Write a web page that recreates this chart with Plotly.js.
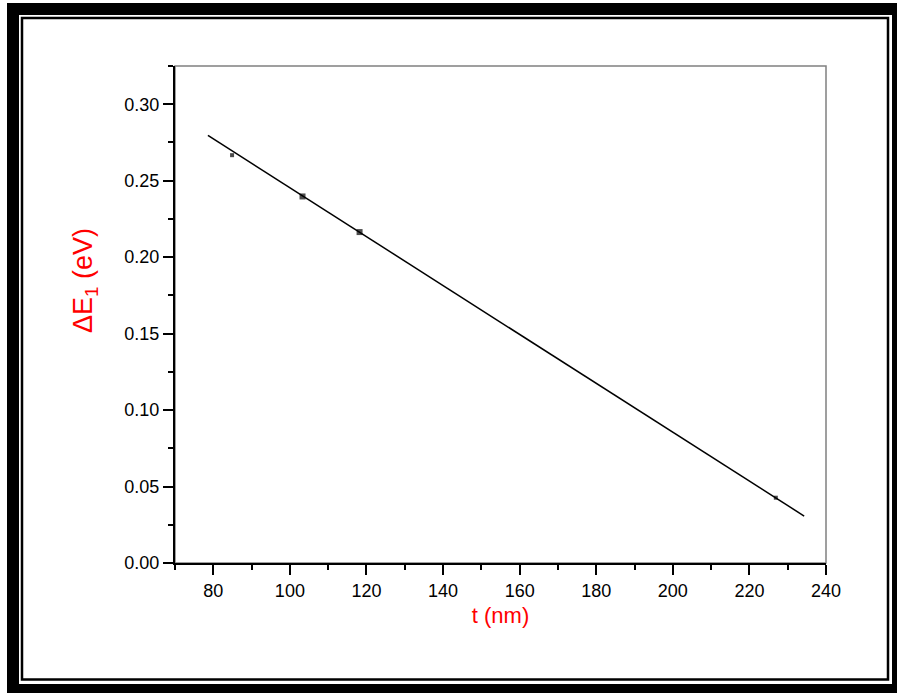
<!DOCTYPE html>
<html>
<head>
<meta charset="utf-8">
<script src="https://cdn.plot.ly/plotly-3.0.1.min.js"></script>
<style>
html,body{margin:0;padding:0;background:#fff;}
#chart{width:897px;height:693px;}
</style>
</head>
<body>
<div id="chart"></div>
<script>
// Data
const thickness = [84.9, 103.3, 118.2, 226.9];      // t (nm)
const deltaE1   = [0.2667, 0.2397, 0.2164, 0.0427]; // ΔE1 (eV)
const fitX = [78.6, 234.3];
const fitY = [0.2796, 0.0307];
const xTickVals = [80, 100, 120, 140, 160, 180, 200, 220, 240];
const yTickVals = [0.00, 0.05, 0.10, 0.15, 0.20, 0.25, 0.30];

// layout geometry (pixels)
const L = 175, R = 71, T = 66, B = 130, W = 897, H = 693;
const pw = W - L - R, ph = H - T - B;
const px = v => (v - L) / pw;
const py = v => (H - B - v) / ph;

const font = 'Liberation Sans, Arial, sans-serif';

const traces = [
  {
    x: fitX, y: fitY, type: 'scatter', mode: 'lines',
    line: {color: '#000', width: 1.5}, hoverinfo: 'skip', showlegend: false
  },
  {
    x: thickness, y: deltaE1, type: 'scatter', mode: 'markers',
    marker: {symbol: 'square', color: '#000', size: [4, 6, 6, 4], line: {width: 0}},
    showlegend: false
  }
];

const layout = {
  width: W, height: H,
  margin: {l: L, r: R, t: T, b: B, pad: 0},
  paper_bgcolor: '#fff',
  plot_bgcolor: 'rgba(0,0,0,0)',
  font: {family: font, size: 18, color: '#000'},
  showlegend: false,
  xaxis: {
    range: [70, 240],
    tickvals: xTickVals,
    ticktext: xTickVals.map(v => String(v)),
    showline: true, linecolor: '#000', linewidth: 2,
    ticks: 'outside', ticklen: 10, tickwidth: 2, tickcolor: '#000',
    minor: {dtick: 10, tick0: 70, ticks: 'outside', ticklen: 5, tickwidth: 2, tickcolor: '#000', showgrid: false},
    showgrid: false, zeroline: false,
    tickfont: {family: font, size: 18, color: '#000'},
    title: {text: 't (nm)', font: {family: font, size: 22, color: '#ff0000'}, standoff: 8}
  },
  yaxis: {
    range: [0, 0.32501],
    tickvals: yTickVals,
    ticktext: yTickVals.map(v => v.toFixed(2)),
    showline: true, linecolor: '#000', linewidth: 2,
    ticks: 'outside', ticklen: 10, tickwidth: 2, tickcolor: '#000',
    minor: {dtick: 0.025, tick0: 0, ticks: 'outside', ticklen: 5, tickwidth: 2, tickcolor: '#000', showgrid: false},
    showgrid: false, zeroline: false,
    tickfont: {family: font, size: 18, color: '#000'}
  },
  annotations: [
    {
      xref: 'paper', yref: 'paper', x: px(85), y: py(280),
      text: 'ΔE<sub>1</sub> (eV)', textangle: -90, showarrow: false,
      xanchor: 'center', yanchor: 'middle',
      font: {family: font, size: 27, color: '#ff0000'}
    }
  ],
  shapes: [
    {type: 'rect', xref: 'paper', yref: 'paper', layer: 'below',
     x0: px(7), x1: px(897), y0: py(3), y1: py(693),
     fillcolor: '#000', line: {width: 0}},
    {type: 'rect', xref: 'paper', yref: 'paper', layer: 'below',
     x0: px(19), x1: px(892), y0: py(15), y1: py(684),
     fillcolor: '#fff', line: {width: 0}},
    {type: 'rect', xref: 'paper', yref: 'paper', layer: 'below',
     x0: px(22), x1: px(888), y0: py(18), y1: py(679.5),
     fillcolor: 'rgba(0,0,0,0)', line: {color: '#000', width: 2.5}},
    {type: 'rect', xref: 'paper', yref: 'paper', layer: 'below',
     x0: 0, x1: 1, y0: 0, y1: 1,
     fillcolor: 'rgba(0,0,0,0)', line: {color: '#808080', width: 1.5}}
  ]
};

Plotly.newPlot('chart', traces, layout, {staticPlot: true, displayModeBar: false});
</script>
</body>
</html>
